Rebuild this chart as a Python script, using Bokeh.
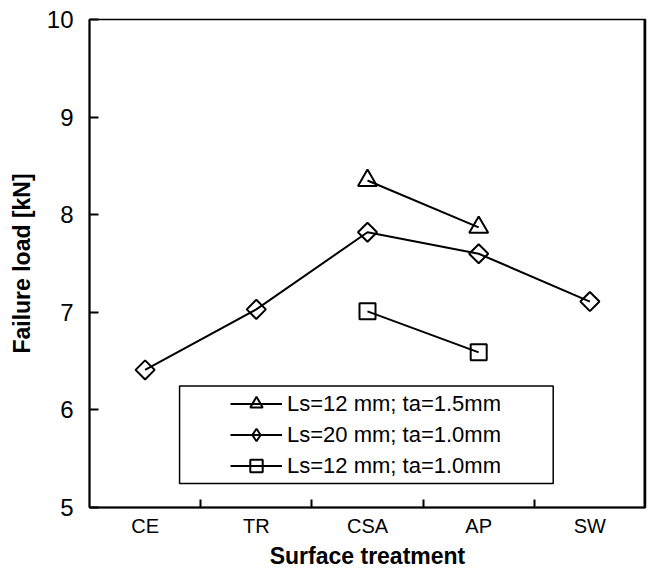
from bokeh.plotting import figure
from bokeh.models import Range1d, FixedTicker, BoxAnnotation, Span
from bokeh.embed import file_html
from bokeh.resources import INLINE
import math

# ---- data ----
categories = ["CE", "TR", "CSA", "AP", "SW"]

s1_label = "Ls=12 mm; ta=1.5mm"
s1_cats = ["CSA", "AP"]
s1_vals = [8.35, 7.87]

s2_label = "Ls=20 mm; ta=1.0mm"
s2_cats = ["CE", "TR", "CSA", "AP", "SW"]
s2_vals = [6.41, 7.03, 7.82, 7.60, 7.11]

s3_label = "Ls=12 mm; ta=1.0mm"
s3_cats = ["CSA", "AP"]
s3_vals = [7.01, 6.59]

y_ticks = [5, 6, 7, 8, 9, 10]

FONT = "Liberation Sans"


def xpos(cats):
    return [categories.index(c) + 0.5 for c in cats]


p = figure(width=648, height=571, output_backend="svg", toolbar_location=None,
           x_range=Range1d(0, len(categories)), y_range=Range1d(5, 10),
           min_border_left=89, min_border_right=3, min_border_top=19, min_border_bottom=63)

p.xgrid.grid_line_color = None
p.ygrid.grid_line_color = None
p.background_fill_color = "white"
p.border_fill_color = "white"
p.outline_line_color = "black"
p.outline_line_width = 1.5

# heavier right frame edge, as in the original
p.add_layout(Span(location=len(categories), dimension="height",
                  line_color="black", line_width=4))

# x axis
p.xaxis.ticker = FixedTicker(ticks=[i + 0.5 for i in range(len(categories))],
                             minor_ticks=list(range(1, len(categories))))
p.xaxis.major_label_overrides = {i + 0.5: c for i, c in enumerate(categories)}
p.xaxis.major_tick_line_color = None
p.xaxis.major_tick_in = 0
p.xaxis.major_tick_out = 0
p.xaxis.minor_tick_in = 8
p.xaxis.minor_tick_out = 0
p.xaxis.minor_tick_line_width = 2
p.xaxis.minor_tick_line_color = "black"
p.xaxis.axis_line_width = 2
p.xaxis.axis_line_color = "black"
p.xaxis.major_label_text_font = FONT
p.xaxis.major_label_text_font_size = "20px"
p.xaxis.major_label_text_color = "black"
p.xaxis.major_label_standoff = 7
p.xaxis.axis_label = "Surface treatment"
p.xaxis.axis_label_text_font = FONT
p.xaxis.axis_label_text_font_style = "bold"
p.xaxis.axis_label_text_font_size = "23px"
p.xaxis.axis_label_text_color = "black"
p.xaxis.axis_label_standoff = 3

# y axis
p.yaxis.ticker = FixedTicker(ticks=y_ticks)
p.yaxis.major_tick_in = 9
p.yaxis.major_tick_out = 0
p.yaxis.major_tick_line_width = 2
p.yaxis.major_tick_line_color = "black"
p.yaxis.minor_tick_line_color = None
p.yaxis.axis_line_width = 2
p.yaxis.axis_line_color = "black"
p.yaxis.major_label_text_font = FONT
p.yaxis.major_label_text_font_size = "24px"
p.yaxis.major_label_text_color = "black"
p.yaxis.major_label_standoff = 16
p.yaxis.axis_label = "Failure load [kN]"
p.yaxis.axis_label_text_font = FONT
p.yaxis.axis_label_text_font_style = "bold"
p.yaxis.axis_label_text_font_size = "23px"
p.yaxis.axis_label_text_color = "black"
p.yaxis.axis_label_standoff = 9

# series
p.line(xpos(s1_cats), s1_vals, line_color="black", line_width=2, legend_label=s1_label)
p.scatter(xpos(s1_cats), s1_vals, marker="triangle", size=19, fill_color=None,
          line_color="black", line_width=2, legend_label=s1_label)

p.line(xpos(s2_cats), s2_vals, line_color="black", line_width=2, legend_label=s2_label)
p.scatter(xpos(s2_cats), s2_vals, marker="square", angle=math.pi / 4, size=13.5,
          fill_color=None, line_color="black", line_width=2)
# diamond glyph used only for the legend entry
p.scatter(xpos(s2_cats), s2_vals, marker="diamond", size=19, fill_color=None,
          line_color="black", line_width=2, legend_label=s2_label, visible=False)

p.line(xpos(s3_cats), s3_vals, line_color="black", line_width=2, legend_label=s3_label)
p.scatter(xpos(s3_cats), s3_vals, marker="square", size=16, fill_color=None,
          line_color="black", line_width=2, legend_label=s3_label)

# legend frame
p.add_layout(BoxAnnotation(left=0.81, right=4.17, bottom=5.245, top=6.245,
                           fill_color=None, fill_alpha=0, line_color="black",
                           line_width=1.5, line_alpha=1))

leg = p.legend[0]
leg.location = (141, 26)
leg.padding = 0
leg.margin = 0
leg.spacing = 0
leg.border_line_color = None
leg.background_fill_alpha = 0
leg.glyph_width = 52
leg.glyph_height = 31
leg.label_height = 31
leg.label_standoff = 5
leg.label_text_font = FONT
leg.label_text_font_size = "22px"
leg.label_text_color = "black"
leg.click_policy = "none"

open("out.html", "w").write(file_html(p, INLINE))
